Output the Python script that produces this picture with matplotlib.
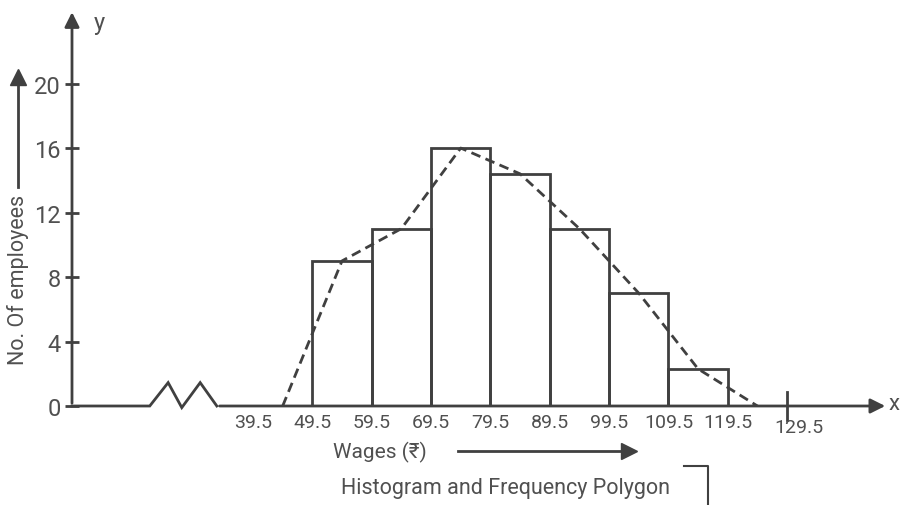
import matplotlib.pyplot as plt

# class boundaries and frequencies
edges = [49.5, 59.5, 69.5, 79.5, 89.5, 99.5, 109.5, 119.5]
freq = [9, 11, 16, 14.4, 11, 7, 2.3]
# polygon: class mid points, with empty classes at both ends
mids = [44.5, 54.5, 64.5, 74.5, 84.5, 94.5, 104.5, 114.5, 124.5]
poly = [0] + freq + [0]

xticks = [39.5, 49.5, 59.5, 69.5, 79.5, 89.5, 99.5, 109.5, 119.5]
yticks = [0, 4, 8, 12, 16, 20]

ink = '#404040'
txt = '#505050'
plt.rcParams['font.family'] = ['Roboto', 'DejaVu Sans']

fig = plt.figure(figsize=(9.01, 5.06), dpi=100)
ax = fig.add_axes([72 / 901, 99 / 506, 816 / 901, 395 / 506])
ax.set_xlim(9, 146.5)
ax.set_ylim(0, 24.5)
for s in ax.spines.values():
    s.set_visible(False)

# histogram
ax.bar(edges[:-1], freq, width=10, align='edge', fill=False,
       edgecolor=ink, linewidth=2.0, zorder=3)
# frequency polygon
ax.plot(mids, poly, color=ink, linestyle=(0, (3.5, 2)), linewidth=2.0, zorder=4)

# axes with arrows and a break (kink) on x
ax.annotate('', xy=(9, 24.6), xytext=(9, 0),
            arrowprops=dict(arrowstyle='-|>', color=ink, lw=2, mutation_scale=22),
            annotation_clip=False)
ax.annotate('', xy=(146.5, 0), xytext=(33.4, 0),
            arrowprops=dict(arrowstyle='-|>', color=ink, lw=2, mutation_scale=22),
            annotation_clip=False)
kink_x = [9, 22.1, 25.2, 27.5, 30.6, 33.4]
kink_y = [0, 0, 1.45, -0.1, 1.45, 0]
ax.plot(kink_x, kink_y, color=ink, lw=2, clip_on=False, solid_joinstyle='miter')
ax.plot([129.5, 129.5], [-0.85, 0.85], color=ink, lw=2, clip_on=False)

ax.set_yticks(yticks)
ax.set_yticklabels([str(v) for v in yticks], fontsize=17, color=txt)
ax.tick_params(axis='y', direction='inout', length=10, width=2, color=ink, pad=3)
ax.set_xticks(xticks)
ax.set_xticklabels([str(v) for v in xticks], fontsize=14, color=txt)
ax.tick_params(axis='x', length=0, pad=5)
ax.text(131.5, -0.75, '129.5', fontsize=14, color=txt, ha='center', va='top')

# axis letters
fig.text(94 / 901, 1 - 24 / 506, 'y', fontsize=17, color=txt, va='center')
fig.text(889 / 901, 1 - 404 / 506, 'x', fontsize=16, color=txt, va='center')

# y label with arrow
fig.text(18 / 901, 1 - 280 / 506, 'No. Of employees', rotation=90, fontsize=15.5,
         color=txt, ha='center', va='center')
fig.add_artist(plt.Line2D([18 / 901, 18 / 901], [1 - 188 / 506, 1 - 85 / 506],
                          color=ink, lw=2))
fig.add_artist(plt.Line2D([18 / 901], [1 - 78 / 506], marker='^', markersize=11,
                          color=ink))

# x label with arrow
fig.text(333 / 901, 1 - 452 / 506, 'Wages (₹)', fontsize=15, color=txt,
         va='center')
fig.add_artist(plt.Line2D([458 / 901, 622 / 901], [1 - 452 / 506, 1 - 452 / 506],
                          color=ink, lw=2))
fig.add_artist(plt.Line2D([629 / 901], [1 - 452 / 506], marker='>', markersize=11,
                          color=ink))

fig.text(505 / 901, 1 - 489 / 506, 'Histogram and Frequency Polygon', fontsize=15.5,
         color=txt, ha='center', va='center')
fig.add_artist(plt.Line2D([684 / 901, 708 / 901, 708 / 901],
                          [1 - 467 / 506, 1 - 467 / 506, 0], color=ink, lw=1.5))

fig.savefig('out.png', dpi=100)
